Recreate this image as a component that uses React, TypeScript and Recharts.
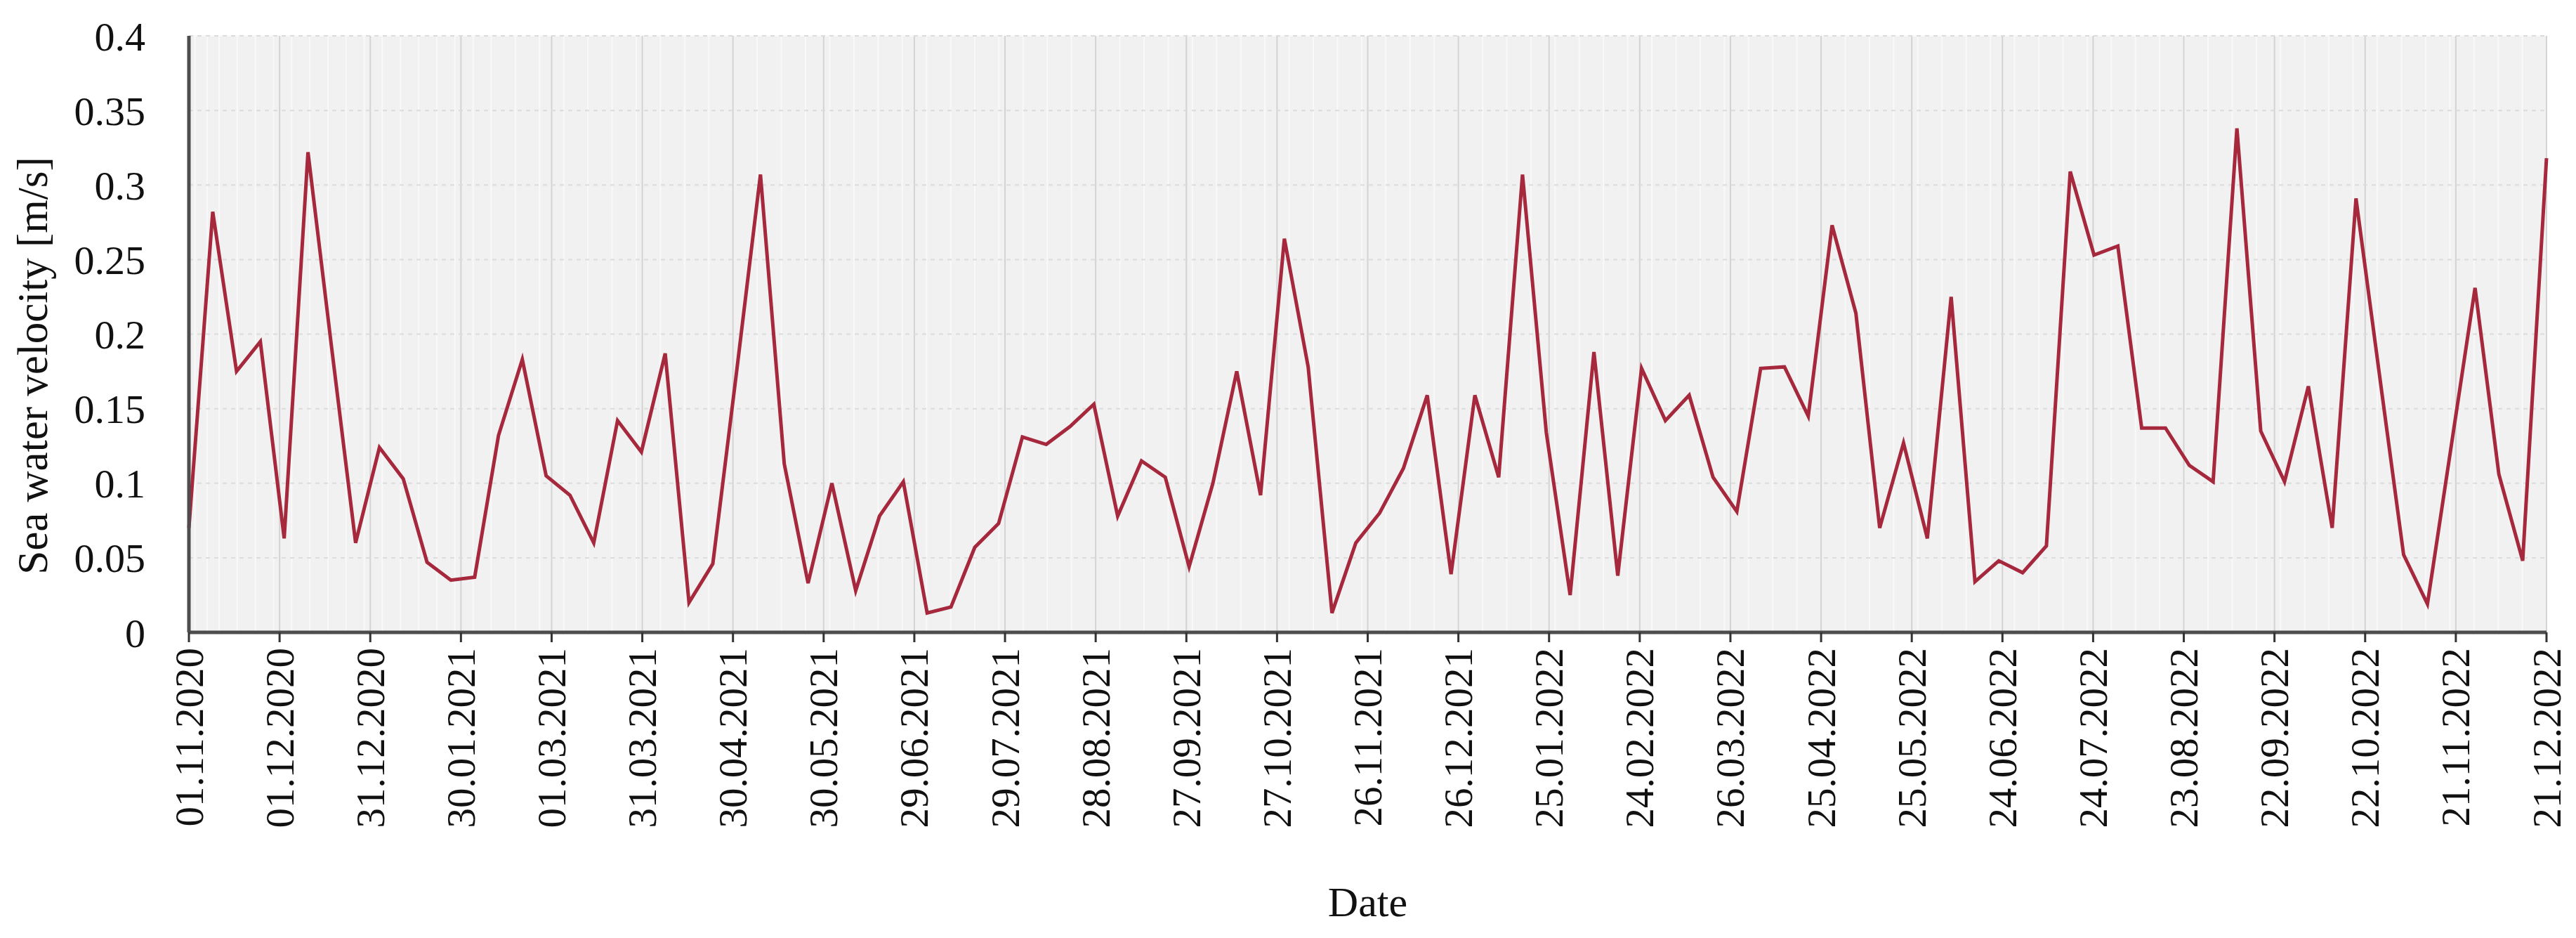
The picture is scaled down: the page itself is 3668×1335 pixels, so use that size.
import React from 'react';
import { LineChart, Line, XAxis, YAxis, CartesianGrid } from 'recharts';

// x tick labels, one every 30 days starting 01.11.2020
const DATE_LABELS = [
  '01.11.2020', '01.12.2020', '31.12.2020', '30.01.2021', '01.03.2021', '31.03.2021',
  '30.04.2021', '30.05.2021', '29.06.2021', '29.07.2021', '28.08.2021', '27.09.2021',
  '27.10.2021', '26.11.2021', '26.12.2021', '25.01.2022', '24.02.2022', '26.03.2022',
  '25.04.2022', '25.05.2022', '24.06.2022', '24.07.2022', '23.08.2022', '22.09.2022',
  '22.10.2022', '21.11.2022', '21.12.2022',
];
const TICK_STEP_DAYS = 30;

// sea water velocity [m/s], sampled evenly between 01.11.2020 and 21.12.2022
const VELOCITY = [
  0.070, 0.282, 0.175, 0.195, 0.063, 0.322, 0.190, 0.060, 0.124, 0.103,
  0.047, 0.035, 0.037, 0.132, 0.183, 0.105, 0.092, 0.060, 0.142, 0.121,
  0.187, 0.020, 0.046, 0.175, 0.307, 0.113, 0.033, 0.100, 0.028, 0.078,
  0.101, 0.013, 0.017, 0.057, 0.073, 0.131, 0.126, 0.138, 0.153, 0.078,
  0.115, 0.104, 0.044, 0.100, 0.175, 0.092, 0.264, 0.178, 0.013, 0.060,
  0.080, 0.110, 0.159, 0.039, 0.159, 0.104, 0.307, 0.134, 0.025, 0.188,
  0.038, 0.177, 0.142, 0.159, 0.104, 0.081, 0.177, 0.178, 0.145, 0.273,
  0.214, 0.070, 0.127, 0.063, 0.225, 0.034, 0.048, 0.040, 0.058, 0.309,
  0.253, 0.259, 0.137, 0.137, 0.112, 0.101, 0.338, 0.135, 0.101, 0.165,
  0.070, 0.291, 0.171, 0.052, 0.019, 0.125, 0.231, 0.106, 0.048, 0.318,
];

const Y_TICKS = [0, 0.05, 0.1, 0.15, 0.2, 0.25, 0.3, 0.35, 0.4];

const TOTAL_DAYS = (DATE_LABELS.length - 1) * TICK_STEP_DAYS;
const SAMPLE_STEP = TOTAL_DAYS / (VELOCITY.length - 1);

const data = VELOCITY.map((v, i) => ({ day: i * SAMPLE_STEP, velocity: v }));
const xTicks = DATE_LABELS.map((_, i) => i * TICK_STEP_DAYS);
const minorX = Array.from({ length: TOTAL_DAYS / 2 + 1 }, (_, i) => i * 2);
const minorY = Array.from({ length: 41 }, (_, i) => i / 100);

const FONT = '"Liberation Serif", "DejaVu Serif", serif';
const LINE_COLOR = '#a5283d';

const DateTick = (props: any) => {
  const { x, y, payload } = props;
  const label = DATE_LABELS[Math.round(payload.value / TICK_STEP_DAYS)];
  return (
    <text
      transform={`translate(${x},${y}) rotate(-90)`}
      textAnchor="end"
      dominantBaseline="central"
      fontFamily={FONT}
      fontSize={57}
      fill="#111"
    >
      {label}
    </text>
  );
};

const XTitle = (props: any) => {
  const { x, y, width } = props.viewBox;
  return (
    <text x={x + width / 2} y={y + 404} textAnchor="middle" fontFamily={FONT} fontSize={60} fill="#111">
      Date
    </text>
  );
};

const YTitle = (props: any) => {
  const { y, height } = props.viewBox;
  return (
    <text
      transform={`translate(46,${y + height / 2 + 45}) rotate(-90)`}
      textAnchor="middle"
      dominantBaseline="central"
      fontFamily={FONT}
      fontSize={61}
      fill="#111"
    >
      Sea water velocity [m/s]
    </text>
  );
};

export default function App() {
  return (
    <div style={{ position: 'absolute', left: 0, top: 0, background: '#fff' }}>
      <LineChart width={3668} height={1335} data={data} margin={{ top: 51, right: 42, left: 119, bottom: 15 }}>
        {/* minor grid on hidden axes */}
        <XAxis xAxisId="minor" type="number" dataKey="day" domain={[0, TOTAL_DAYS]} ticks={minorX} hide height={0} />
        <YAxis yAxisId="minor" type="number" domain={[0, 0.4]} ticks={minorY} hide width={0} />
        <CartesianGrid xAxisId="minor" yAxisId="minor" fill="#f1f1f1" stroke="#f9f9f9" strokeWidth={2} />

        {/* frame top / right */}
        <XAxis xAxisId="top" orientation="top" type="number" dataKey="day" domain={[0, TOTAL_DAYS]} height={0} tick={false} tickLine={false} axisLine={{ stroke: '#1a1a1a', strokeWidth: 3 }} />
        <YAxis yAxisId="right" orientation="right" type="number" domain={[0, 0.4]} width={0} tick={false} tickLine={false} axisLine={{ stroke: '#1a1a1a', strokeWidth: 3 }} />

        <CartesianGrid horizontal={false} stroke="#d3d3d3" strokeWidth={2} />
        <CartesianGrid vertical={false} stroke="#dcdcdc" strokeWidth={2} strokeDasharray="6 6" />

        <XAxis
          type="number"
          dataKey="day"
          domain={[0, TOTAL_DAYS]}
          ticks={xTicks}
          interval={0}
          height={420}
          tick={<DateTick />}
          tickSize={14}
          tickMargin={8}
          tickLine={{ stroke: '#333', strokeWidth: 3 }}
          axisLine={{ stroke: '#4d4d4d', strokeWidth: 5 }}
          label={<XTitle />}
        />
        <YAxis
          type="number"
          domain={[0, 0.4]}
          ticks={Y_TICKS}
          interval={0}
          width={150}
          tickSize={0}
          tickMargin={62}
          tickLine={false}
          tickFormatter={(v: number) => String(+v.toFixed(2))}
          tick={{ fontFamily: FONT, fontSize: 58, fill: '#111' }}
          axisLine={{ stroke: '#4d4d4d', strokeWidth: 5 }}
          label={<YTitle />}
        />
        <Line
          type="linear"
          dataKey="velocity"
          stroke={LINE_COLOR}
          strokeWidth={5}
          dot={false}
          isAnimationActive={false}
        />
      </LineChart>
    </div>
  );
}
